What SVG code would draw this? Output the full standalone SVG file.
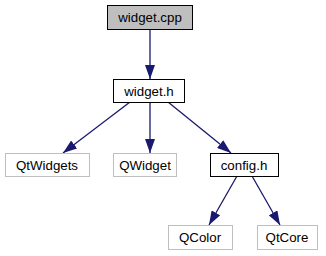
<svg xmlns="http://www.w3.org/2000/svg" width="326" height="256" viewBox="0 0 326 256">
  <style>
    .node rect { stroke-width: 1; }
    .main rect { fill: #bfbfbf; stroke: #000000; }
    .local rect { fill: #ffffff; stroke: #000000; }
    .ext rect { fill: #ffffff; stroke: #bfbfbf; }
    .node text { font-family: "Liberation Sans", Arial, sans-serif; font-size: 13.3px; fill: #000000; text-anchor: middle; }
    .edge { stroke: #191970; stroke-width: 1.3; fill: none; marker-end: url(#arrow); }
  </style>
  <defs>
    <!-- filled triangular head, sized in user units -->
    <marker id="arrow" viewBox="0 0 14 10" refX="14" refY="5" markerWidth="14" markerHeight="10" markerUnits="userSpaceOnUse" orient="auto">
      <path d="M0,0 L14,5 L0,10 Z" fill="#191970"/>
    </marker>
  </defs>
  <rect width="326" height="256" fill="#ffffff"/>

  <g id="connectors">
    <line class="edge" x1="150" y1="30" x2="150" y2="79"/>
    <line class="edge" x1="130" y1="102" x2="63" y2="153"/>
    <line class="edge" x1="150" y1="102" x2="150" y2="153"/>
    <line class="edge" x1="168" y1="102" x2="231" y2="153"/>
    <line class="edge" x1="237" y1="176" x2="209" y2="225"/>
    <line class="edge" x1="252" y1="176" x2="280" y2="225"/>
  </g>

  <g id="widget_cpp" class="node main">
    <rect x="107.5" y="5.5" width="85" height="24"/>
    <text x="150" y="22">widget.cpp</text>
  </g>
  <g id="widget_h" class="node local">
    <rect x="113.5" y="79.5" width="71" height="23"/>
    <text x="149" y="96">widget.h</text>
  </g>
  <g id="QtWidgets" class="node ext">
    <rect x="5.5" y="153.5" width="84" height="23"/>
    <text x="47" y="170">QtWidgets</text>
  </g>
  <g id="QWidget" class="node ext">
    <rect x="113.5" y="153.5" width="63" height="23"/>
    <text x="145" y="170">QWidget</text>
  </g>
  <g id="config_h" class="node local">
    <rect x="210.5" y="153.5" width="68" height="23"/>
    <text x="244" y="170">config.h</text>
  </g>
  <g id="QColor" class="node ext">
    <rect x="168.5" y="225.5" width="64" height="24"/>
    <text x="200" y="242">QColor</text>
  </g>
  <g id="QtCore" class="node ext">
    <rect x="257.5" y="225.5" width="60" height="24"/>
    <text x="287" y="242">QtCore</text>
  </g>
</svg>
